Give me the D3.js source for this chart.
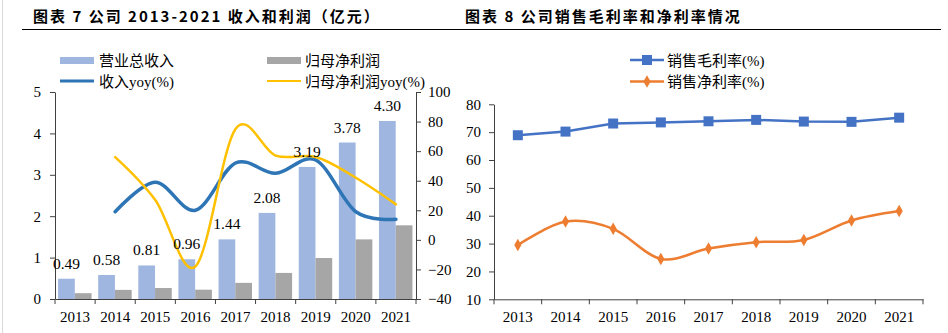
<!DOCTYPE html>
<html>
<head>
<meta charset="utf-8">
<script src="https://cdn.jsdelivr.net/npm/d3@7"></script>
<style>
  body { margin: 0; background: #fff; }
  svg { display: block; }
</style>
</head>
<body>
<div id="chart"></div>
<script>
const years = ["2013", "2014", "2015", "2016", "2017", "2018", "2019", "2020", "2021"];
const revenue = [0.49, 0.58, 0.81, 0.96, 1.44, 2.08, 3.19, 3.78, 4.30];
const netProfit = [0.14, 0.22, 0.265, 0.225, 0.39, 0.63, 0.99, 1.44, 1.78];
const revenueYoy = [null, 19, 39, 20, 52, 45, 54, 19, 14];
const profitYoy = [null, 56, 27, -18, 75, 57, 56, 42, 24];
const grossMargin = [68.9, 70.2, 73.1, 73.5, 73.9, 74.4, 73.8, 73.7, 75.2];
const netMargin = [29.5, 37.9, 35.3, 24.5, 28.2, 30.5, 31.3, 38.3, 41.7];
const leftTicks = [0, 1, 2, 3, 4, 5];
const rightTicks = [-40, -20, 0, 20, 40, 60, 80, 100];
const marginTicks = [10, 20, 30, 40, 50, 60, 70, 80];

const W = 948, H = 333;
const serif = "'Liberation Serif', 'Noto Sans CJK SC', serif";
const axisColor = "#404040";

const svg = d3.select("#chart").append("svg")
    .attr("width", W).attr("height", H).attr("viewBox", [0, 0, W, H]);

// page frame bits
svg.append("line").attr("x1", 2.5).attr("x2", 2.5).attr("y1", 0).attr("y2", H)
    .attr("stroke", "#d9d9d9");
svg.append("line").attr("x1", 22).attr("x2", 941).attr("y1", 29.5).attr("y2", 29.5)
    .attr("stroke", "#000").attr("stroke-width", 1.2);

const titleStyle = (t) => t
    .attr("font-family", "'Noto Sans CJK SC', 'Liberation Sans', sans-serif")
    .attr("font-weight", "bold").attr("font-size", 15)
    .attr("letter-spacing", 2).attr("fill", "#000");
svg.append("text").attr("x", 33).attr("y", 22).text("图表 7 公司 2013-2021 收入和利润（亿元）").call(titleStyle);
svg.append("text").attr("x", 465).attr("y", 22).text("图表 8 公司销售毛利率和净利率情况").call(titleStyle);

function styleAxis(g) {
    g.select(".domain").attr("stroke", axisColor);
    g.selectAll(".tick line").attr("stroke", axisColor);
    g.selectAll(".tick text").attr("font-family", serif).attr("font-size", 15).attr("fill", "#000");
}

function categoryAxis(x, y0) {
    const g = svg.append("g").attr("transform", `translate(0,${y0})`)
        .call(d3.axisBottom(x).tickSize(0).tickPadding(12).tickSizeOuter(0))
        .call(styleAxis);
    const edges = x.domain().map((d) => x(d)).concat([x.range()[1]]);
    g.selectAll(".edge").data(edges).join("line").attr("class", "edge")
        .attr("x1", (d) => d).attr("x2", (d) => d).attr("y1", 0).attr("y2", 5)
        .attr("stroke", axisColor);
}

// ---------- left chart ----------
const xL = d3.scaleBand().domain(years).range([55, 416]).padding(0);
const yL = d3.scaleLinear().domain([0, 5]).range([299, 92]);
const yR = d3.scaleLinear().domain([-40, 100]).range([299, 92]);
const bw = xL.bandwidth();

svg.append("g").selectAll("rect").data(years).join("rect")
    .attr("x", (d) => xL(d) + bw * 0.077)
    .attr("y", (d, i) => yL(revenue[i]))
    .attr("width", bw * 0.417)
    .attr("height", (d, i) => yL(0) - yL(revenue[i]))
    .attr("fill", "#9fb6e1");

svg.append("g").selectAll("rect").data(years).join("rect")
    .attr("x", (d) => xL(d) + bw * 0.494)
    .attr("y", (d, i) => yL(netProfit[i]))
    .attr("width", bw * 0.417)
    .attr("height", (d, i) => yL(0) - yL(netProfit[i]))
    .attr("fill", "#a6a6a6");

svg.append("g").attr("transform", "translate(55,0)")
    .call(d3.axisLeft(yL).tickValues(leftTicks).tickFormat(d3.format("d"))
        .tickSize(5).tickPadding(9).tickSizeOuter(0))
    .call(styleAxis);
svg.append("g").attr("transform", "translate(416,0)")
    .call(d3.axisRight(yR).tickValues(rightTicks).tickSize(5).tickPadding(7).tickSizeOuter(0))
    .call(styleAxis);
categoryAxis(xL, 299);

const smooth = d3.curveCatmullRom.alpha(0);
const lineL = (vals) => d3.line()
    .defined((d, i) => vals[i] != null)
    .x((d) => xL(d) + bw / 2)
    .y((d, i) => yR(vals[i]))
    .curve(smooth)(years);

svg.append("path").attr("d", lineL(revenueYoy))
    .attr("fill", "none").attr("stroke", "#2e75b6").attr("stroke-width", 3.5)
    .attr("stroke-linecap", "round");
svg.append("path").attr("d", lineL(profitYoy))
    .attr("fill", "none").attr("stroke", "#ffc000").attr("stroke-width", 2.5)
    .attr("stroke-linecap", "round");

svg.append("g").selectAll("text").data(years).join("text")
    .attr("x", (d) => xL(d) + bw * (0.077 + 0.417 / 2))
    .attr("y", (d, i) => yL(revenue[i]) - 10)
    .attr("text-anchor", "middle")
    .attr("font-family", serif).attr("font-size", 15.5).attr("fill", "#000")
    .text((d, i) => revenue[i].toFixed(2));

// left legend
const legL = svg.append("g").attr("font-family", serif).attr("font-size", 15).attr("fill", "#000");
legL.append("rect").attr("x", 60).attr("y", 57).attr("width", 34).attr("height", 7).attr("fill", "#9fb6e1");
legL.append("text").attr("x", 99).attr("y", 65.5).text("营业总收入");
legL.append("rect").attr("x", 267).attr("y", 57).attr("width", 34).attr("height", 7).attr("fill", "#a6a6a6");
legL.append("text").attr("x", 305).attr("y", 65.5).text("归母净利润");
legL.append("line").attr("x1", 60).attr("x2", 94).attr("y1", 81).attr("y2", 81)
    .attr("stroke", "#2e75b6").attr("stroke-width", 3);
legL.append("text").attr("x", 99).attr("y", 86.5).text("收入yoy(%)");
legL.append("line").attr("x1", 267).attr("x2", 301).attr("y1", 81).attr("y2", 81)
    .attr("stroke", "#ffc000").attr("stroke-width", 2);
legL.append("text").attr("x", 305).attr("y", 86.5).text("归母净利润yoy(%)");

// ---------- right chart ----------
const xM = d3.scaleBand().domain(years).range([494, 923]).padding(0);
const yM = d3.scaleLinear().domain([10, 80]).range([299.3, 104.3]);
const bm = xM.bandwidth();

svg.append("g").attr("transform", "translate(494,0)")
    .call(d3.axisLeft(yM).tickValues(marginTicks).tickSize(5).tickPadding(8).tickSizeOuter(0))
    .call(styleAxis);
categoryAxis(xM, 299.3);

const lineM = (vals, curve) => d3.line()
    .x((d) => xM(d) + bm / 2)
    .y((d, i) => yM(vals[i]))
    .curve(curve)(years);

const blue = "#4472c4", orange = "#ed7d31";
svg.append("path").attr("d", lineM(grossMargin, d3.curveLinear))
    .attr("fill", "none").attr("stroke", blue).attr("stroke-width", 2.5);
svg.append("path").attr("d", lineM(netMargin, smooth))
    .attr("fill", "none").attr("stroke", orange).attr("stroke-width", 2.5);

const square = d3.symbol().type(d3.symbolSquare).size(100);
const diamond = d3.symbol().type(d3.symbolDiamond).size(45);
svg.append("g").selectAll("path").data(years).join("path")
    .attr("transform", (d, i) => `translate(${xM(d) + bm / 2},${yM(grossMargin[i])})`)
    .attr("d", square).attr("fill", blue);
svg.append("g").selectAll("path").data(years).join("path")
    .attr("transform", (d, i) => `translate(${xM(d) + bm / 2},${yM(netMargin[i])})`)
    .attr("d", diamond).attr("fill", orange);

// right legend
const legM = svg.append("g").attr("font-family", serif).attr("font-size", 15).attr("fill", "#000");
legM.append("line").attr("x1", 630).attr("x2", 664).attr("y1", 60).attr("y2", 60)
    .attr("stroke", blue).attr("stroke-width", 2.5);
legM.append("path").attr("transform", "translate(647,60)").attr("d", square).attr("fill", blue);
legM.append("text").attr("x", 667).attr("y", 65.5).text("销售毛利率(%)");
legM.append("line").attr("x1", 630).attr("x2", 664).attr("y1", 81.5).attr("y2", 81.5)
    .attr("stroke", orange).attr("stroke-width", 2.5);
legM.append("path").attr("transform", "translate(647,81.5)").attr("d", diamond).attr("fill", orange);
legM.append("text").attr("x", 667).attr("y", 87).text("销售净利率(%)");
</script>
</body>
</html>
